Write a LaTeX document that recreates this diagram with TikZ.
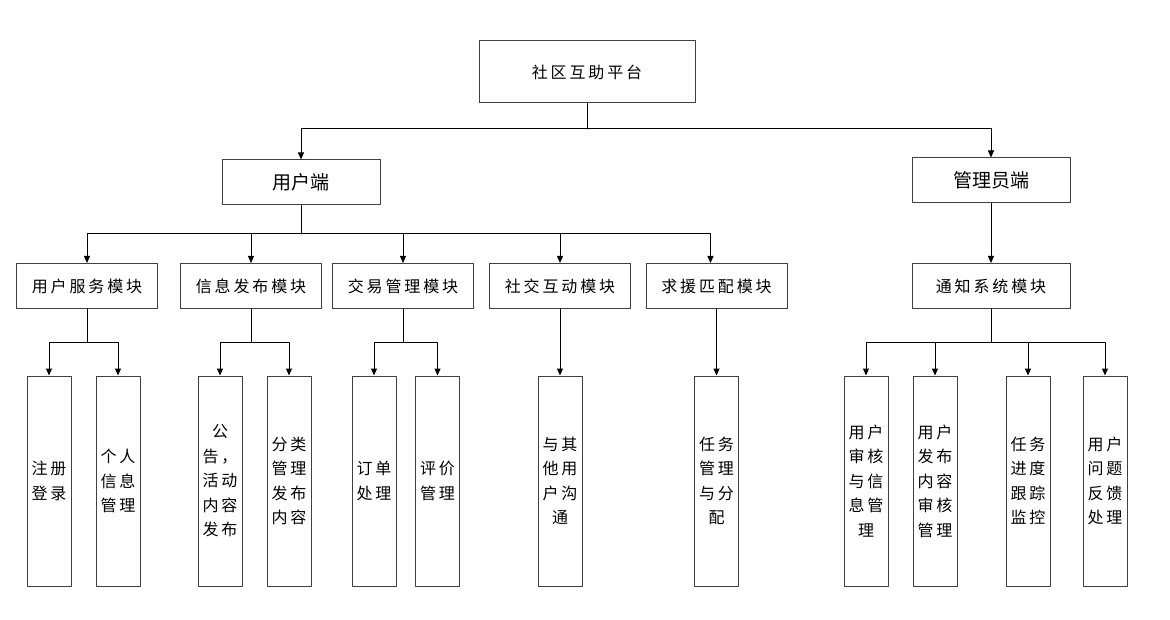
\documentclass[tikz,border=0pt]{standalone}
\usepackage{fontspec}
\newfontfamily\cjk[LetterSpace=18]{Noto Sans CJK SC}
\newfontfamily\cjkside{Noto Sans CJK SC}
\usetikzlibrary{arrows.meta}
\begin{document}
\begin{tikzpicture}[x=1pt,y=-1pt,line join=round,line cap=round,>={Triangle[length=7pt,width=6pt]},
  box/.style={draw=black!75,line width=1pt,inner sep=0pt,font=\cjk\fontsize{16}{18}\selectfont},
  sidebox/.style={box,minimum width=158pt,minimum height=45pt,font=\cjkside\fontsize{19}{22}\selectfont},
  modbox/.style={box,minimum width=141pt,minimum height=45pt},
  leaf/.style={box,minimum width=44pt,minimum height=210pt,align=center,font=\cjk\fontsize{16}{24.5}\selectfont},
  link/.style={line width=1pt}]
  \useasboundingbox (0,0) rectangle (1170,620);
  \fill[white] (0,0) rectangle (1170,620);
  %% top and the two sides
  \node[box,minimum width=216pt,minimum height=62pt] (top) at (587,72) {社区互助平台};
  \node[sidebox] (usr) at (301,182.5) {用户端};
  \node[sidebox] (adm) at (991,180.5) {管理员端};
  %% modules
  \node[modbox] (m1) at (87,286) {用户服务模块};
  \node[modbox] (m2) at (251,286) {信息发布模块};
  \node[modbox] (m3) at (403,286) {交易管理模块};
  \node[modbox] (m4) at (560,286) {社交互动模块};
  \node[modbox] (m5) at (716.5,286) {求援匹配模块};
  \node[modbox,minimum width=158pt] (m6) at (991,286) {通知系统模块};
  %% leaves
  \node[leaf] (l1) at (49,481) {注册\\登录};
  \node[leaf] (l2) at (118,481) {个人\\信息\\管理};
  \node[leaf] (l3) at (220,481) {公\\告，\\活动\\内容\\发布};
  \node[leaf] (l4) at (289,481) {分类\\管理\\发布\\内容};
  \node[leaf] (l5) at (374,481) {订单\\处理};
  \node[leaf] (l6) at (437.5,481) {评价\\管理};
  \node[leaf] (l7) at (560,481) {与其\\他用\\户沟\\通};
  \node[leaf] (l8) at (716.5,481) {任务\\管理\\与分\\配};
  \node[leaf] (l9) at (866,481) {用户\\审核\\与信\\息管\\理};
  \node[leaf] (l10) at (935,481) {用户\\发布\\内容\\审核\\管理};
  \node[leaf] (l11) at (1028,481) {任务\\进度\\跟踪\\监控};
  \node[leaf] (l12) at (1105,481) {用户\\问题\\反馈\\处理};
  %% junctions
  \coordinate (j0) at (587,129);
  \coordinate (j1) at (301,234);
  \coordinate (j2) at (87,342);
  \coordinate (j3) at (251,342);
  \coordinate (j4) at (403,342);
  \coordinate (j6) at (991,342);
  %% connectors
  \draw[link] (top) -- (j0);
  \draw[link,->] (j0) -| (usr);
  \draw[link,->] (j0) -| (adm);
  \draw[link] (usr) -- (j1);
  \foreach \c in {m1,m2,m3,m4}
    \draw[link,->] (j1) -| (\c);
  \draw[link,->] (j1) -| ([xshift=-6pt]m5.north);
  \draw[link,->] (adm) -- (m6);
  \draw[link] (m1) -- (j2);
  \draw[link] (m2) -- (j3);
  \draw[link] (m3) -- (j4);
  \draw[link] (m6) -- (j6);
  \foreach \c in {l1,l2}
    \draw[link,->] (j2) -| (\c);
  \foreach \c in {l3,l4}
    \draw[link,->] (j3) -| (\c);
  \foreach \c in {l5,l6}
    \draw[link,->] (j4) -| (\c);
  \foreach \c in {l9,l10,l11,l12}
    \draw[link,->] (j6) -| (\c);
  \draw[link,->] (m4) -- (l7);
  \draw[link,->] (m5) -- (l8);
\end{tikzpicture}
\end{document}
